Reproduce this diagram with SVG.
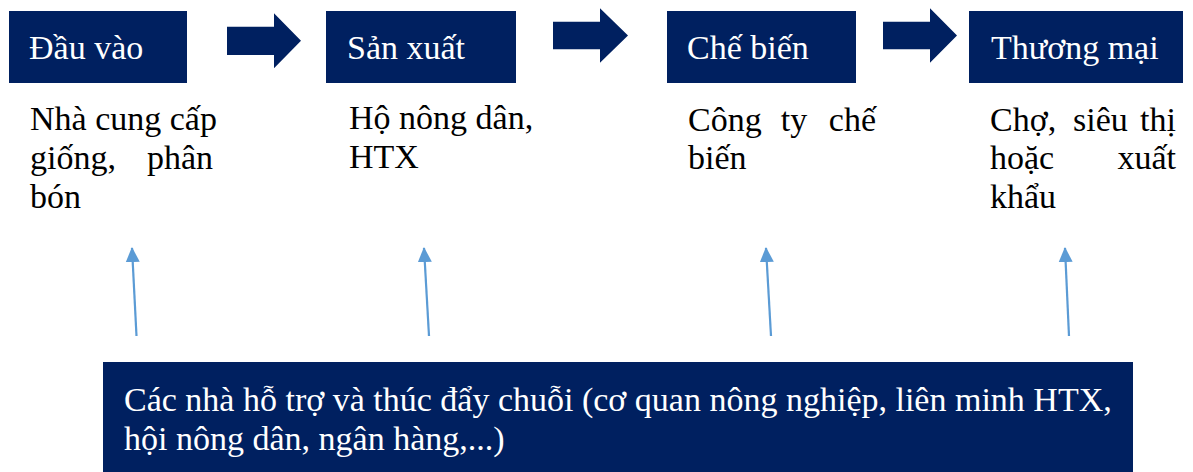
<svg xmlns="http://www.w3.org/2000/svg" width="1193" height="472" viewBox="0 0 1193 472">
<style>
.box{fill:#002060}
.bt{font-family:"Liberation Serif","Times New Roman",serif;font-size:34px;fill:#ffffff}
.dt{font-family:"Liberation Serif","Times New Roman",serif;font-size:34px;fill:#000000}
.blk{fill:#002060}
.con{stroke:#5B9BD5;stroke-width:2.2;fill:none;marker-end:url(#ah)}
</style>
<defs>
<marker id="ah" markerWidth="15" markerHeight="16" refX="15" refY="7.5" orient="auto" markerUnits="userSpaceOnUse" viewBox="0 0 16 15">
<path d="M0,0 L16,7.5 L0,15 Z" fill="#5B9BD5"/>
</marker>
</defs>
<rect width="1193" height="472" fill="#ffffff"/>
<g id="node-dauvao">
<rect class="box" x="9" y="11" width="178" height="72"/>
<text class="bt" x="29" y="59">Đầu vào</text>
<text class="dt" x="30" y="130">Nhà cung cấp</text>
<text class="dt" x="30" y="169">giống,</text>
<text class="dt" x="213" y="169" text-anchor="end">phân</text>
<text class="dt" x="30" y="208">bón</text>
</g>
<g id="node-sanxuat">
<rect class="box" x="326" y="11" width="190" height="72"/>
<text class="bt" x="347" y="59">Sản xuất</text>
<text class="dt" x="349" y="129">Hộ nông dân,</text>
<text class="dt" x="349" y="168">HTX</text>
</g>
<g id="node-chebien">
<rect class="box" x="667" y="11" width="189" height="72"/>
<text class="bt" x="687" y="59">Chế biến</text>
<text class="dt" x="688" y="131">Công</text>
<text class="dt" x="794" y="131" text-anchor="middle">ty</text>
<text class="dt" x="876" y="131" text-anchor="end">chế</text>
<text class="dt" x="688" y="169">biến</text>
</g>
<g id="node-thuongmai">
<rect class="box" x="969" y="11" width="214" height="72"/>
<text class="bt" x="991" y="59">Thương mại</text>
<text class="dt" x="990" y="131">Chợ,</text>
<text class="dt" x="1073" y="131">siêu</text>
<text class="dt" x="1176" y="131" text-anchor="end">thị</text>
<text class="dt" x="990" y="169">hoặc</text>
<text class="dt" x="1176" y="169" text-anchor="end">xuất</text>
<text class="dt" x="990" y="208">khẩu</text>
</g>
<g id="node-hotro">
<rect class="box" x="103" y="362" width="1030" height="110"/>
<text class="bt" x="124" y="411">Các nhà hỗ trợ và thúc đẩy chuỗi (cơ quan nông nghiệp, liên minh HTX,</text>
<text class="bt" x="124" y="450">hội nông dân, ngân hàng,...)</text>
</g>
<g id="connectors">
<path class="blk" d="M227,26.7 L274,26.7 L274,13.3 L301,40.7 L274,68.3 L274,55 L227,55 Z"/>
<path class="blk" d="M553,21.7 L600,21.7 L600,8.3 L628,35.5 L600,62.7 L600,49.3 L553,49.3 Z"/>
<path class="blk" d="M883,21.7 L930,21.7 L930,8.3 L957,35.5 L930,62.7 L930,49.3 L883,49.3 Z"/>
<line class="con" x1="136.5" y1="336" x2="132" y2="248"/>
<line class="con" x1="429" y1="336" x2="424" y2="248"/>
<line class="con" x1="771" y1="336" x2="766" y2="248"/>
<line class="con" x1="1069" y1="336" x2="1065" y2="248"/>
</g>
</svg>
